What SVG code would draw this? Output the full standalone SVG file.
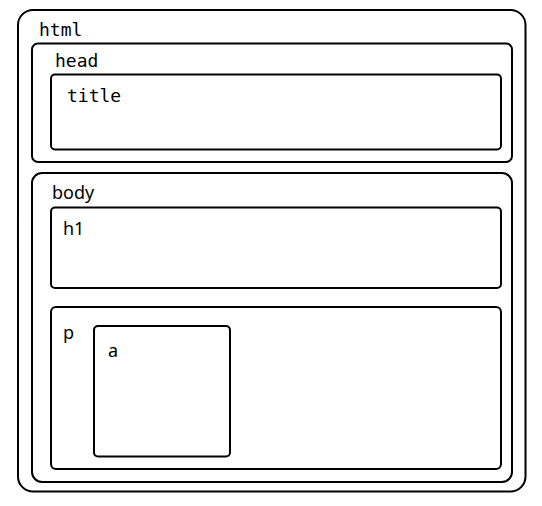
<svg xmlns="http://www.w3.org/2000/svg" width="542" height="506" viewBox="0 0 542 506">
<style>
rect{fill:none;stroke:#000;stroke-width:2}
.mono{font-family:"DejaVu Sans Mono",monospace;font-size:18px;fill:#000}
.sans{font-family:"Noto Sans","Open Sans",sans-serif;font-size:18px;fill:#000}
</style>
<rect x="0" y="0" width="542" height="506" style="fill:#fff;stroke:none"/>
<g id="html">
<rect x="18" y="10" width="507.5" height="481.5" rx="15"/>
<text class="mono" x="39" y="36">html</text>
</g>
<g id="head">
<rect x="32" y="43.5" width="480" height="118.5" rx="6"/>
<text class="mono" x="55" y="67">head</text>
</g>
<g id="title">
<rect x="51" y="74.5" width="450" height="75" rx="4"/>
<text class="mono" x="67" y="102">title</text>
</g>
<g id="body">
<rect x="32" y="173" width="480" height="309" rx="10"/>
<text class="sans" x="52" y="199">body</text>
</g>
<g id="h1">
<rect x="51" y="207.5" width="450" height="80.5" rx="4"/>
<text class="sans" x="63" y="235">h1</text>
</g>
<g id="p">
<rect x="51" y="307" width="450" height="162" rx="5"/>
<text class="sans" x="63" y="339">p</text>
</g>
<g id="a">
<rect x="94" y="326" width="136" height="130.5" rx="4"/>
<text class="sans" x="108" y="357">a</text>
</g>
<g id="connectors"/>
</svg>
